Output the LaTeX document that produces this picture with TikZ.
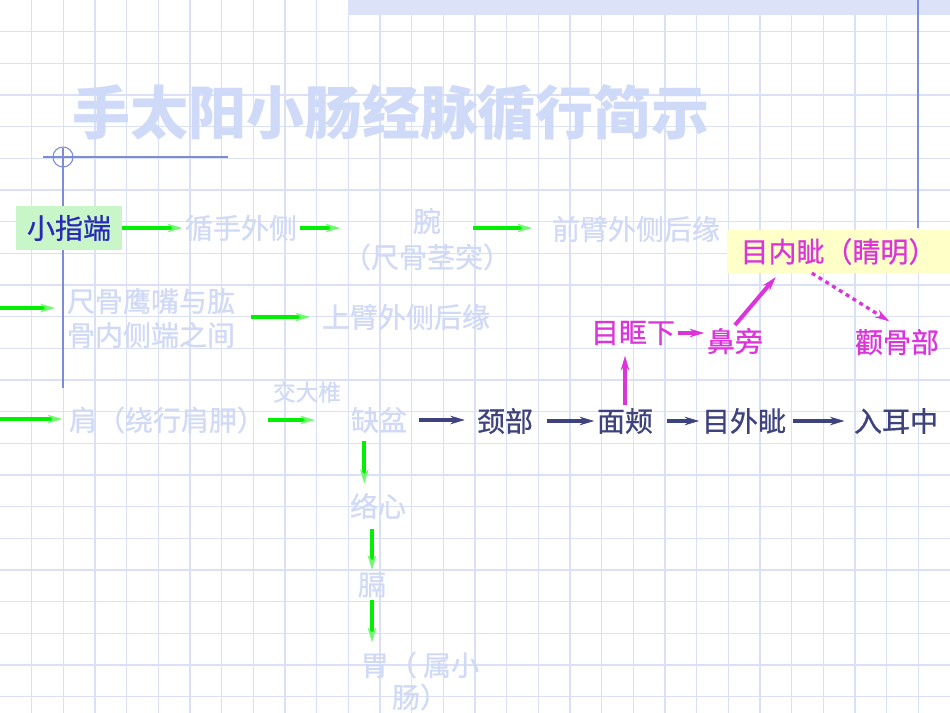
\documentclass[tikz,border=0pt]{standalone}
\usepackage{fontspec}
\setmainfont{Noto Sans CJK SC}
\newfontfamily\lblfont{Noto Sans CJK SC}[FakeBold=0.7]
\usetikzlibrary{arrows.meta}
\definecolor{gridc}{RGB}{218,224,246}
\definecolor{palec}{RGB}{208,218,246}
\definecolor{titlec}{RGB}{206,218,248}
\definecolor{decoc}{RGB}{125,140,215}
\definecolor{barc}{RGB}{220,227,249}
\definecolor{zdblue}{RGB}{40,40,185}
\definecolor{zdbox}{RGB}{200,246,200}
\definecolor{lgreen}{RGB}{0,240,0}
\definecolor{hgreen}{RGB}{110,250,110}
\definecolor{navyc}{RGB}{62,66,125}
\definecolor{magc}{RGB}{218,52,218}
\definecolor{yboxc}{RGB}{255,255,200}

\begin{document}
\begin{tikzpicture}[x=0.75pt,y=-0.75pt,
	lbl/.style={inner sep=2pt,font=\lblfont\fontsize{21}{25.5}\selectfont},
	meridian/.style={lbl,text=palec,align=center},
	facelbl/.style={lbl,text=navyc},
	eyelbl/.style={lbl,text=magc},
	gr/.style={line width=3pt,lgreen,-{Stealth[length=11pt,width=6.5pt,inset=4pt,line width=0.4pt,color=hgreen]}},
	nv/.style={line width=3pt,navyc,-{Stealth[length=11pt,width=6.5pt,inset=4pt,line width=0.4pt,color=navyc]}},
	mg/.style={line width=3pt,magc,-{Stealth[length=11pt,width=6.5pt,inset=4pt,line width=0.4pt,color=magc]}}]
		\useasboundingbox (0,0) rectangle (950,713);
		\fill[white] (0,0) rectangle (950,713);
		\foreach \i in {1,...,29}
			\draw[gridc,line width=1.1pt] (\i*31.667,0) -- (\i*31.667,713);
		\foreach \j in {1,...,22}
			\draw[gridc,line width=1.1pt] (0,\j*31.667) -- (950,\j*31.667);
		\fill[barc] (348,0) rectangle (950,15);
		\begin{scope}[decoc,line width=0.8pt]
			\draw (918,0) -- (918,228);
			\draw (63,148) -- (63,388);
			\draw (43,157) -- (228,157);
			\draw (63,157) circle [radius=10];
		\end{scope}
		
		\node (title) at (391,113) {\fontsize{43.5}{50}\bfseries\color{titlec}手太阳小肠经脉循行简示};
		
		\node[lbl,text=zdblue,fill=zdbox,minimum width=79.5pt,minimum height=33pt,inner sep=0pt] (zd) at (69,228) {小指端};
		\node[meridian] (xs) at (241,228) {循手外侧};
		\node[meridian] (wan) at (427,221) {腕};
		\node[meridian] (wan2) at (427,257) {（尺骨茎突）};
		\node[meridian] (qb) at (636,229) {前臂外侧后缘};
		\node[lbl,text=magc,fill=yboxc,minimum width=167pt,minimum height=32pt,inner sep=0pt] (mn) at (838.5,251.5) {目内眦（睛明）};
		
		\coordinate (w1) at (0,308);
		\node[meridian] (cg) at (151,318) {尺骨鹰嘴与肱\\骨内侧端之间};
		\node[meridian] (sb) at (406,317) {上臂外侧后缘};
		\node[eyelbl] (mk) at (633,333) {目眶下};
		\node[eyelbl] (bp) at (735,341) {鼻旁};
		\node[eyelbl] (gg) at (897,342) {颧骨部};
		
		\coordinate (w2) at (0,419);
		\node[meridian] (jian) at (167,420) {肩（绕行肩胛）};
		\node[meridian,font=\lblfont\fontsize{17}{20}\selectfont] (jdz) at (307,392) {交大椎};
		\node[meridian] (qp) at (379,420) {缺盆};
		\node[facelbl] (jb) at (505,421) {颈部};
		\node[facelbl] (mj) at (625,421) {面颊};
		\node[facelbl] (mw) at (744,421) {目外眦};
		\node[facelbl] (re) at (896,421) {入耳中};
		
		\node[meridian] (lx) at (378,506) {络心};
		\node[meridian] (ge) at (372,585) {膈};
		\node[meridian,font=\lblfont\fontsize{21}{24}\selectfont] (wei) at (420,681) {胃（ 属小\\肠）};
		
		\draw[gr] (zd) to (xs);
		\draw[gr] (xs.east) to (xs.east -| wan2.west);
		\draw[gr,shorten <=22pt,shorten >=13pt] (wan.east |- xs.east) to (qb.west |- xs.east);
		\draw[gr,shorten >=7pt] (w1) to (w1 -| cg.west);
		\draw[gr,shorten <=10pt,shorten >=7pt] (cg.east |- sb.west) to (sb.west);
		\draw[gr,shorten >=3pt] (w2) to (w2 -| jian.west);
		\draw[gr,shorten >=25pt] (jian.east) to (jian.east -| qp.west);
		\draw[gr,shorten <=4pt,shorten >=5pt] ([xshift=-11pt]qp.south) to ([xshift=-11pt]qp.south |- lx.north);
		\draw[gr,shorten <=5pt] (lx.south -| ge.north) to (ge.north);
		\draw[gr,shorten >=5pt] (ge.south) to (ge.south |- wei.north);
		
		\draw[nv,shorten <=7pt,shorten >=7pt] (qp) to (qp -| jb.west);
		\draw[nv,shorten <=8pt] (jb) to (mj);
		\draw[nv,shorten <=8pt] (mj) to (mw);
		\draw[nv,shorten <=3pt,shorten >=5pt] (mw) to (re);
		
		\draw[mg,shorten >=6pt] (mj.north) to (mj.north |- mk.south);
		\draw[mg] (mk.east) to (mk.east -| bp.west);
		\draw[mg,shorten >=4pt] (bp.north) to (mn.200);
		\draw[mg,line width=2.5pt,dash pattern=on 3pt off 3pt,shorten >=7pt] (mn.219) to (gg.north);
\end{tikzpicture}
\end{document}
